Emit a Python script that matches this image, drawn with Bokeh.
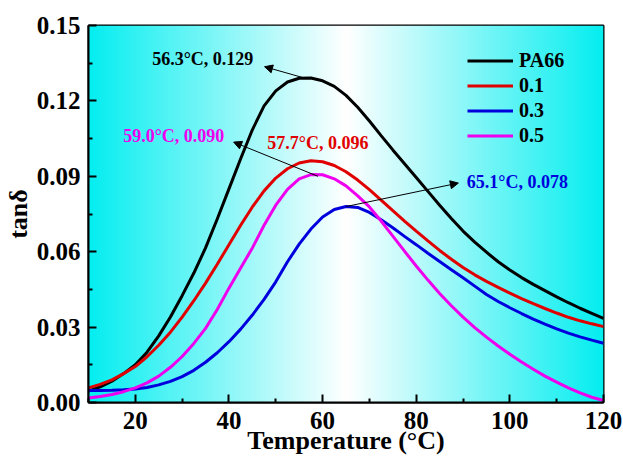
import numpy as np
from bokeh.plotting import figure
from bokeh.models import (Range1d, FixedTicker, NumeralTickFormatter, Legend, LegendItem,
                          Arrow, NormalHead, Label)
from bokeh.embed import file_html
from bokeh.resources import INLINE

# ---------------- data ----------------
temperature = [10, 12.5, 15, 17.5, 20, 22.5, 25, 27.5, 30, 32.5, 35, 37.5, 40, 42.5, 45,
               47.5, 50, 52.5, 55, 57.5, 60, 62.5, 65, 67.5, 70, 72.5, 75, 77.5, 80, 82.5,
               85, 87.5, 90, 92.5, 95, 97.5, 100, 102.5, 105, 107.5, 110, 112.5, 115, 117.5, 120]

tan_pa66 = [.0045, .0062, .0085, .0115, .0150, .0200, .0265, .0340, .0425, .0515, .0615, .0730,
            .0850, .0970, .1085, .1180, .1240, .1275, .1290, .1291, .1280, .1258, .1222, .1175,
            .1120, .1062, .1005, .0950, .0895, .0840, .0785, .0732, .0682, .0638, .0598, .0560,
            .0527, .0497, .0470, .0445, .0420, .0397, .0375, .0355, .0335]

tan_01 = [.0058, .0072, .0090, .0115, .0143, .0182, .0228, .0280, .0340, .0405, .0475, .0550,
          .0628, .0705, .0778, .0842, .0893, .0930, .0953, .0962, .0958, .0943, .0918, .0885,
          .0847, .0805, .0763, .0722, .0682, .0643, .0605, .0570, .0537, .0508, .0482, .0458,
          .0435, .0413, .0393, .0374, .0356, .0339, .0325, .0313, .0302]

tan_03 = [.0048, .0048, .0049, .0051, .0054, .0060, .0070, .0084, .0103, .0128, .0160, .0198,
          .0242, .0292, .0348, .0410, .0480, .0560, .0630, .0690, .0738, .0768, .0780, .0776,
          .0756, .0727, .0695, .0661, .0628, .0594, .0561, .0528, .0496, .0463, .0430, .0402,
          .0377, .0354, .0332, .0312, .0293, .0276, .0261, .0248, .0236]

tan_05 = [.0018, .0024, .0032, .0043, .0058, .0078, .0105, .0140, .0183, .0235, .0295, .0370,
          .0455, .0535, .0615, .0705, .0785, .0848, .0890, .0907, .0906, .0890, .0862, .0822,
          .0778, .0722, .0662, .0602, .0543, .0487, .0434, .0385, .0340, .0298, .0260, .0225,
          .0192, .0161, .0132, .0105, .0081, .0058, .0038, .0021, .0008]

series_names = ["PA66", "0.1", "0.3", "0.5"]
series_values = [tan_pa66, tan_01, tan_03, tan_05]
series_colors = ["#000000", "#E00000", "#0000DD", "#EE00EE"]

peak_temp = [56.3, 57.7, 65.1, 59.0]
peak_tan = [0.129, 0.096, 0.078, 0.090]

x_ticks = [20, 40, 60, 80, 100, 120]
x_minor = [10, 30, 50, 70, 90, 110]
y_ticks = [0.0, 0.03, 0.06, 0.09, 0.12, 0.15]
y_minor = [0.015, 0.045, 0.075, 0.105, 0.135]

FONT = "Liberation Serif"

# ---------------- figure ----------------
x0, x1, y0, y1 = 10, 120, 0.0, 0.15
p = figure(width=623, height=462, x_range=Range1d(x0, x1), y_range=Range1d(y0, y1),
           output_backend="svg", toolbar_location=None,
           min_border_left=88, min_border_right=20, min_border_top=25, min_border_bottom=60)
p.grid.visible = False
p.border_fill_color = "white"
p.outline_line_color = "black"
p.outline_line_width = 2

# background gradient: cyan at the edges, white in the middle
N = 256
frac = np.linspace(0, 1, N)
t = np.abs(frac - 0.5) * 2
cyan = np.array([5, 238, 240])
rgb = (255 * (1 - t[:, None]) + cyan[None, :] * t[:, None]).astype(np.uint8)
img = np.zeros((1, N), dtype=np.uint32)
view = img.view(dtype=np.uint8).reshape((1, N, 4))
view[0, :, 0:3] = rgb
view[0, :, 3] = 255
p.image_rgba(image=[img], x=x0, y=y0, dw=x1 - x0, dh=y1 - y0)

# curves
items = []
for name, vals, col in zip(series_names, series_values, series_colors):
    r = p.line(temperature, vals, line_color=col, line_width=3)
    items.append(LegendItem(label=name, renderers=[r]))

legend = Legend(items=items, location=(379, 254), padding=0, margin=0, spacing=0,
                glyph_width=46, glyph_height=25, label_height=25, label_standoff=6,
                border_line_color=None, background_fill_alpha=0,
                label_text_font=FONT, label_text_font_style="bold",
                label_text_font_size="20px", label_text_color="black")
p.add_layout(legend)

# annotations
label_pos = [(23.6, 0.1365), (48.2, 0.1031), (90.8, 0.0879), (17.4, 0.1062)]
arrow_end = [(47.6, 0.1336), None, (89.0, 0.0873), (41.0, 0.1036)]
for i in range(4):
    txt = f"{peak_temp[i]:.1f}\u00b0C, {peak_tan[i]:.3f}"
    lx, ly = label_pos[i]
    p.add_layout(Label(x=lx, y=ly, text=txt, text_font=FONT, text_font_style="bold",
                       text_font_size="18px", text_color=series_colors[i],
                       text_align="left", text_baseline="middle"))
    if arrow_end[i] is not None:
        ex, ey = arrow_end[i]
        p.add_layout(Arrow(end=NormalHead(size=8, fill_color="black", line_color="black"),
                           x_start=peak_temp[i], y_start=peak_tan[i], x_end=ex, y_end=ey,
                           line_color="black", line_width=1))

# axes
for ax in (p.xaxis[0], p.yaxis[0]):
    ax.axis_line_width = 2
    ax.axis_line_color = "black"
    ax.major_tick_in = 8
    ax.major_tick_out = 0
    ax.minor_tick_in = 4
    ax.minor_tick_out = 0
    ax.major_tick_line_width = 2
    ax.minor_tick_line_width = 2
    ax.major_tick_line_color = "black"
    ax.minor_tick_line_color = "black"
    ax.major_label_text_font = FONT
    ax.major_label_text_font_style = "bold"
    ax.major_label_text_font_size = "25px"
    ax.major_label_text_color = "black"
    ax.axis_label_text_font = FONT
    ax.axis_label_text_font_style = "bold"
    ax.axis_label_text_font_size = "26px"
    ax.axis_label_text_color = "black"

p.xaxis.ticker = FixedTicker(ticks=x_ticks, minor_ticks=x_minor)
p.yaxis.ticker = FixedTicker(ticks=y_ticks, minor_ticks=y_minor)
p.yaxis.formatter = NumeralTickFormatter(format="0.00")
p.xaxis.major_label_standoff = 9
p.yaxis.major_label_standoff = 8
p.xaxis.axis_label = "Temperature (\u00b0C)"
p.yaxis.axis_label = "tan\u03b4"
p.xaxis.axis_label_standoff = -6
p.yaxis.axis_label_standoff = 1

open("out.html", "w").write(file_html(p, INLINE))
